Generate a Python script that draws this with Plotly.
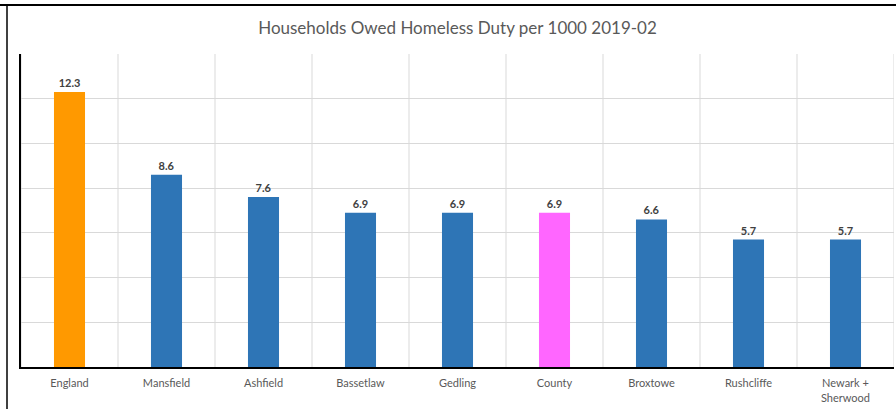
import plotly.graph_objects as go

# Households owed a homelessness duty per 1000 households, 2019-02
areas = ["England", "Mansfield", "Ashfield", "Bassetlaw", "Gedling",
         "County", "Broxtowe", "Rushcliffe", "Newark +<br>Sherwood"]
rates = [12.3, 8.6, 7.6, 6.9, 6.9, 6.9, 6.6, 5.7, 5.7]
bar_colors = ["#FF9900", "#2E75B6", "#2E75B6", "#2E75B6", "#2E75B6",
              "#FF66FF", "#2E75B6", "#2E75B6", "#2E75B6"]

W, H = 896, 409
ML, MR, MT, MB = 21, 2, 54, 42
pw, ph = W - ML - MR, H - MT - MB

fig = go.Figure(go.Bar(
    x=list(range(len(areas))),
    y=rates,
    marker=dict(color=bar_colors, line=dict(width=0)),
    width=0.32,
    text=[f"{v:.1f}" for v in rates],
    textposition="outside",
    textfont=dict(family="Lato", size=11, color="#404040", weight="bold"),
    cliponaxis=False,
))

# light vertical separators between categories
for i in range(len(areas) + 1):
    fig.add_shape(type="line", xref="x", yref="paper",
                  x0=i - 0.5, x1=i - 0.5, y0=0, y1=1,
                  line=dict(color="#D9D9D9", width=1), layer="below")

# outer chart frame (top and left edges)
def px_x(p):
    return (p - ML) / pw

def px_y(p):
    return (H - MB - p) / ph

fig.add_shape(type="line", xref="paper", yref="paper",
              x0=px_x(0), x1=px_x(W), y0=px_y(5), y1=px_y(5),
              line=dict(color="#000000", width=2))
fig.add_shape(type="line", xref="paper", yref="paper",
              x0=px_x(7), x1=px_x(7), y0=px_y(5), y1=px_y(H),
              line=dict(color="#000000", width=1.5))

fig.update_layout(
    width=W, height=H,
    margin=dict(l=ML, r=MR, t=MT, b=MB),
    paper_bgcolor="white", plot_bgcolor="white",
    showlegend=False,
    title=dict(text="Households Owed Homeless Duty per 1000 2019-02",
               x=0.5, xref="paper", xanchor="center",
               y=1 - 28 / H, yanchor="middle",
               font=dict(family="Lato", size=17, color="#595959")),
    xaxis=dict(
        tickmode="array", tickvals=list(range(len(areas))), ticktext=areas,
        range=[-0.5, len(areas) - 0.5],
        showgrid=False, zeroline=False,
        showline=True, linecolor="#000000", linewidth=2,
        ticks="", ticklabelstandoff=5,
        tickfont=dict(family="Lato", size=11, color="#595959"),
    ),
    yaxis=dict(
        range=[0, 14], dtick=2,
        showgrid=True, gridcolor="#D9D9D9", gridwidth=1,
        zeroline=False, showticklabels=False, ticks="",
        showline=True, linecolor="#000000", linewidth=1.5,
    ),
)

fig.write_html("out.html")
